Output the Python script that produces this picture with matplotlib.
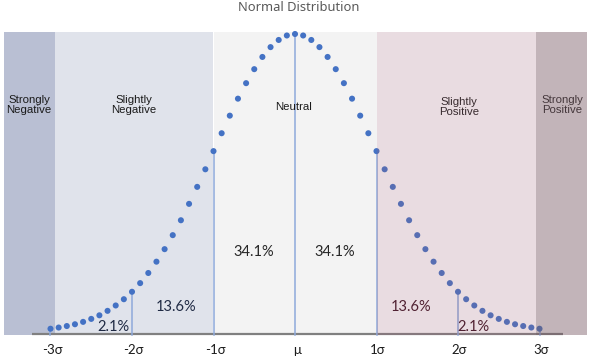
import matplotlib
matplotlib.use("Agg")
import matplotlib.pyplot as plt
from matplotlib.patches import Rectangle

# ---- data ----
sigma_pos = [-3.0, -2.9, -2.8, -2.7, -2.6, -2.5, -2.4, -2.3, -2.2, -2.1,
             -2.0, -1.9, -1.8, -1.7, -1.6, -1.5, -1.4, -1.3, -1.2, -1.1,
             -1.0, -0.9, -0.8, -0.7, -0.6, -0.5, -0.4, -0.3, -0.2, -0.1,
             0.0, 0.1, 0.2, 0.3, 0.4, 0.5, 0.6, 0.7, 0.8, 0.9,
             1.0, 1.1, 1.2, 1.3, 1.4, 1.5, 1.6, 1.7, 1.8, 1.9,
             2.0, 2.1, 2.2, 2.3, 2.4, 2.5, 2.6, 2.7, 2.8, 2.9, 3.0]
heights = [0.011, 0.015, 0.020, 0.026, 0.034, 0.044, 0.056, 0.071, 0.089, 0.110,
           0.135, 0.164, 0.198, 0.236, 0.278, 0.325, 0.375, 0.430, 0.487, 0.546,
           0.607, 0.667, 0.726, 0.783, 0.835, 0.882, 0.923, 0.956, 0.980, 0.995,
           1.000, 0.995, 0.980, 0.956, 0.923, 0.882, 0.835, 0.783, 0.726, 0.667,
           0.607, 0.546, 0.487, 0.430, 0.375, 0.325, 0.278, 0.236, 0.198, 0.164,
           0.135, 0.110, 0.089, 0.071, 0.056, 0.044, 0.034, 0.026, 0.020, 0.015, 0.011]
tick_pos = [-3, -2, -1, 0, 1, 2, 3]
tick_labels = ["-3σ", "-2σ", "-1σ", "μ", "1σ", "2σ", "3σ"]
zone_labels = ["Strongly\nNegative", "Slightly\nNegative", "Neutral",
               "Slightly\nPositive", "Strongly\nPositive"]
zone_edges = [-3.57, -2.95, -1.0, 1.0, 2.96, 3.58]
pct_labels = ["2.1%", "13.6%", "34.1%", "34.1%", "13.6%", "2.1%"]

# ---- layout (pixel mapping) ----
W, H = 605, 361
MU_PX, SIG_PX = 295.0, 81.5
BASE_PX, UNIT_PX = 332.0, 298.0

def dx(px):
    return (px - MU_PX) / SIG_PX

def dy(py):
    return (BASE_PX - py) / UNIT_PX

fig = plt.figure(figsize=(W / 100, H / 100), dpi=100)
ax = fig.add_axes([0, 0, 1, 1])
ax.set_xlim(dx(0), dx(W))
ax.set_ylim(dy(H), dy(0))
ax.axis("off")

top_h = dy(32)
bot_h = dy(335)

# left zones (opaque, behind the dots)
left_cols = ["#B9BFD3", "#E0E3EB", "#F3F3F3"]
for i in range(3):
    ax.add_patch(Rectangle((zone_edges[i], bot_h), zone_edges[i + 1] - zone_edges[i],
                           top_h - bot_h, facecolor=left_cols[i], edgecolor="none", zorder=0))

# baseline axis
ax.plot([dx(32), dx(563)], [dy(334), dy(334)], color="#808080", lw=1.6,
        solid_capstyle="butt", zorder=1)

# vertical guide lines
for t in tick_pos:
    idx = sigma_pos.index(float(t))
    ax.plot([t, t], [bot_h, heights[idx]], color="#8EA9DB", lw=1.1, zorder=2)

# dots
ax.scatter(sigma_pos, heights, s=19, color="#4472C4", edgecolors="none", zorder=3)

# right zones as translucent overlays above the dots
ax.add_patch(Rectangle((zone_edges[3], bot_h), zone_edges[4] - zone_edges[3],
                       top_h - bot_h, facecolor=(159 / 255, 100 / 255, 119 / 255),
                       alpha=0.22, edgecolor="none", zorder=5))
ax.add_patch(Rectangle((zone_edges[4], bot_h), zone_edges[5] - zone_edges[4],
                       top_h - bot_h, facecolor=(120 / 255, 90 / 255, 100 / 255),
                       alpha=0.45, edgecolor="none", zorder=5))

# zone labels
zone_xy = [(29, 105), (134, 105), (294, 107), (459, 107), (562, 105)]
for lab, (px, py) in zip(zone_labels, zone_xy):
    ax.text(dx(px), dy(py), lab, ha="center", va="center", fontsize=8.2,
            family="Liberation Sans", color="#1a1a1a", linespacing=1.05, zorder=4)

# percentage labels
pct_xy = [(113, 327), (176, 307), (254, 252), (335, 252), (411, 307), (473, 327)]
pct_cols = ["#1F2A44", "#1F2A44", "#262626", "#262626", "#3a0f1f", "#3a0f1f"]
for lab, (px, py), c in zip(pct_labels, pct_xy, pct_cols):
    ax.text(dx(px), dy(py), lab, ha="center", va="center", fontsize=10.5,
            family="Lato", color=c, zorder=4)

# tick labels
for t, lab in zip(tick_pos, tick_labels):
    ax.text(t + 0.02, dy(350), lab, ha="center", va="center", fontsize=9.5,
            family="Lato", color="#1a1a1a")

# title
ax.text(dx(299), dy(8), "Normal Distribution", ha="center", va="center",
        fontsize=9.3, family="Noto Sans", color="#595959")

fig.savefig("out.png", dpi=100)
